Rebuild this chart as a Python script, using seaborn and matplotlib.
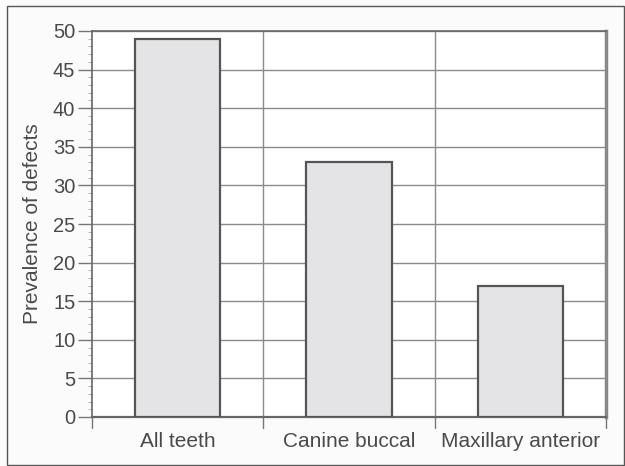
import matplotlib
matplotlib.use("Agg")
import matplotlib.pyplot as plt
from matplotlib.patches import Rectangle
from matplotlib.ticker import MultipleLocator, FixedLocator
import seaborn as sns
import pandas as pd

categories = ["All teeth", "Canine buccal", "Maxillary anterior"]
prevalence = [49, 33, 17]
y_ticks = [0, 5, 10, 15, 20, 25, 30, 35, 40, 45, 50]

sns.set_theme(style="white")
plt.rcParams["font.family"] = ["Liberation Sans", "DejaVu Sans"]

df = pd.DataFrame({"site": categories, "prevalence": prevalence})

fig = plt.figure(figsize=(6.25, 4.66), dpi=100, facecolor="#fbfbfb")
ax = fig.add_axes([92 / 625, 49 / 466, 514 / 625, 386 / 466])
ax.set_facecolor("white")

sns.barplot(data=df, x="site", y="prevalence", ax=ax, width=0.5,
            color="#e4e4e6", edgecolor="#555555", linewidth=1.6,
            saturation=1, zorder=3)

ax.set_xlim(-0.5, 2.5)
ax.set_ylim(0, 50)
ax.yaxis.set_major_locator(FixedLocator(y_ticks))
ax.yaxis.set_minor_locator(MultipleLocator(1))

# grid: horizontal at every 5, vertical at category boundaries
for y in y_ticks:
    ax.axhline(y, color="#8a8a8a", lw=1.0, zorder=1)
for xb in [0.5, 1.5]:
    ax.axvline(xb, color="#8a8a8a", lw=1.0, zorder=1)

text_color = "#4a4a4a"
ax.set_xticks([0, 1, 2])
ax.set_xticklabels(categories)
ax.tick_params(axis="x", length=0, pad=11, labelsize=15, labelcolor=text_color)
for xb in [-0.5, 0.5, 1.5, 2.5]:
    ax.plot([xb, xb], [0, -1.4], color="#777777", lw=1.0, clip_on=False, zorder=2)

ax.tick_params(axis="y", which="major", length=10, width=1.0, color="#777777",
               labelsize=14.5, labelcolor=text_color, pad=2, left=True)
ax.tick_params(axis="y", which="minor", length=3, width=0.6, color="#aaaaaa", left=True)

ax.set_xlabel("")
ax.set_ylabel("Prevalence of defects", fontsize=15, labelpad=0, color=text_color)
ax.yaxis.set_label_coords(-(92 - 42) / 514, 0.5)

for side in ["left", "bottom", "top"]:
    ax.spines[side].set_color("#666666")
    ax.spines[side].set_linewidth(1.2)
ax.spines["bottom"].set_linewidth(1.6)
ax.spines["right"].set_color("#888888")
ax.spines["right"].set_linewidth(2.5)

fig.patches.append(Rectangle((7 / 625, 1 / 466), 617 / 625, 459 / 466,
                             transform=fig.transFigure, fill=False,
                             edgecolor="#555555", lw=1.0))

fig.savefig("out.png", dpi=100, facecolor=fig.get_facecolor())
